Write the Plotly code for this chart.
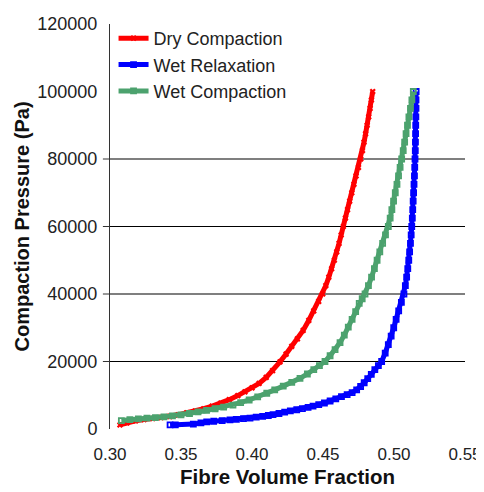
import plotly.graph_objects as go

# ---- data ----
dry_vf = [0.307, 0.312, 0.318, 0.324, 0.330, 0.336, 0.342, 0.348, 0.354, 0.360,
          0.366, 0.372, 0.378, 0.384, 0.390, 0.395, 0.400, 0.405, 0.410, 0.4145,
          0.4197, 0.424, 0.428, 0.432, 0.436, 0.440, 0.4435, 0.447, 0.4498,
          0.4520, 0.4541, 0.4561, 0.4580, 0.4597, 0.4613, 0.4628, 0.4643,
          0.4658, 0.4673, 0.4688, 0.4703, 0.4718, 0.4733, 0.4750, 0.4766,
          0.4778, 0.4789, 0.4800, 0.4811, 0.4822, 0.4832, 0.4841, 0.4850]
dry_p = [1200, 1800, 2400, 2800, 3100, 3350, 3650, 4200, 4800, 5300,
         6000, 6800, 7700, 8700, 9900, 11000, 12200, 13500, 15300, 17300,
         19900, 22200, 24500, 26700, 29200, 32200, 35000, 37800, 40000,
         42500, 45000, 47500, 50000, 52500, 55000, 57500, 60000,
         62500, 65000, 67500, 70000, 72500, 75000, 77500, 80000,
         82500, 85000, 87500, 90000, 92500, 95000, 97500, 100000]

wet_relax_vf = [0.3423, 0.3460, 0.3587, 0.3640, 0.3681, 0.3730, 0.3790, 0.3845,
                0.3890, 0.3940, 0.3986, 0.4030, 0.4075, 0.4115, 0.4148, 0.4190,
                0.4230, 0.4270, 0.4315, 0.4355, 0.4395, 0.4430, 0.4470, 0.4510,
                0.4550, 0.4590, 0.4630, 0.4670, 0.4705, 0.4737, 0.4765, 0.4790,
                0.4815, 0.4840, 0.4865, 0.4890, 0.4913,
                0.4938, 0.4960, 0.4980, 0.4998, 0.5015, 0.5033, 0.5052, 0.5070,
                0.5080, 0.5089, 0.5097, 0.5104, 0.5110, 0.5116, 0.5121, 0.5125,
                0.5129, 0.5132, 0.5135, 0.5138, 0.5141, 0.5144, 0.5146, 0.5148,
                0.5150, 0.5151, 0.5152, 0.5153, 0.5154, 0.5155, 0.5155, 0.5156]
wet_relax_p = [1200, 1200, 1450, 1800, 2100, 2300, 2500, 2700,
               2850, 3050, 3250, 3500, 3750, 4000, 4250, 4600,
               5000, 5350, 5700, 6050, 6400, 6750, 7200, 7700,
               8300, 8900, 9600, 10200, 10800, 11600, 12600, 13700,
               14900, 16200, 17600, 18800, 20000,
               22500, 25000, 27500, 30000, 32500, 35000, 37500, 40000,
               42500, 45000, 47500, 50000, 52500, 55000, 57500, 60000,
               62500, 65000, 67500, 70000, 72500, 75000, 77500, 80000,
               82500, 85000, 87500, 90000, 92500, 95000, 97500, 100000]

wet_comp_vf = [0.308, 0.314, 0.320, 0.326, 0.332, 0.338, 0.344, 0.350, 0.356, 0.362,
               0.368, 0.374, 0.380, 0.3866, 0.392, 0.398, 0.404, 0.4104, 0.416, 0.422,
               0.428, 0.4338, 0.439, 0.4435, 0.4475, 0.4514, 0.455, 0.4585, 0.462,
               0.465, 0.4678, 0.4705, 0.473, 0.4755, 0.4776, 0.4796,
               0.4820, 0.4842, 0.4862, 0.4881, 0.4900, 0.4920, 0.4940, 0.4960,
               0.4973, 0.4985, 0.4997, 0.5009, 0.5021, 0.5032, 0.5043, 0.5054,
               0.5065, 0.5075, 0.5085, 0.5095, 0.5105, 0.5116, 0.5126, 0.5136]
wet_comp_p = [2500, 2800, 3000, 3200, 3400, 3600, 3900, 4200, 4600, 5050,
              5500, 6000, 6500, 7100, 7800, 8600, 9500, 10600, 11600, 12700,
              13800, 15000, 16300, 17600, 18800, 20000, 21700, 23500, 25600,
              27800, 30200, 32500, 34800, 37200, 38600, 40000,
              42500, 45000, 47500, 50000, 52500, 55000, 57500, 60000,
              62500, 65000, 67500, 70000, 72500, 75000, 77500, 80000,
              82500, 85000, 87500, 90000, 92500, 95000, 97500, 100000]

x_ticks = [0.30, 0.35, 0.40, 0.45, 0.50, 0.55]
y_ticks = [0, 20000, 40000, 60000, 80000, 100000, 120000]
grid_ticks = [20000, 40000, 60000, 80000]

FONT = "Liberation Sans, Arial, sans-serif"
RED = "#FF0000"
BLUE = "#0000FF"
GREEN = "#4CA26E"

fig = go.Figure()
fig.add_trace(go.Scatter(
    x=dry_vf, y=dry_p, name="Dry Compaction", mode="lines+markers",
    line=dict(color=RED, width=5),
    marker=dict(symbol="x", size=5.5, color=RED)))
fig.add_trace(go.Scatter(
    x=wet_relax_vf, y=wet_relax_p, name="Wet Relaxation", mode="lines+markers",
    line=dict(color=BLUE, width=5),
    marker=dict(symbol="square-open", size=5, color=BLUE, line=dict(width=1.8, color=BLUE))))
fig.add_trace(go.Scatter(
    x=wet_comp_vf, y=wet_comp_p, name="Wet Compaction", mode="lines+markers",
    line=dict(color=GREEN, width=5),
    marker=dict(symbol="square-open", size=5, color=GREEN, line=dict(width=1.8, color=GREEN))))

# horizontal grid lines and their outside tick marks at the grid tick values
for g in grid_ticks:
    fig.add_shape(type="line", xref="paper", yref="y", x0=0, x1=1, y0=g, y1=g,
                  line=dict(color="#000000", width=1.2), layer="below")
    fig.add_shape(type="line", xref="paper", yref="y", x0=-0.02, x1=0, y0=g, y1=g,
                  line=dict(color="#333333", width=1), layer="below")

fig.update_layout(
    width=476, height=484,
    margin=dict(l=102, r=19, t=14, b=63),
    paper_bgcolor="white", plot_bgcolor="white",
    font=dict(family=FONT, size=18, color="#222222"),
    showlegend=True,
    legend=dict(x=0.01, y=1.01, xanchor="left", yanchor="top",
                bgcolor="rgba(0,0,0,0)", font=dict(size=18, color="#222222"),
                itemwidth=30, tracegroupgap=0),
    xaxis=dict(range=[0.30, 0.55], tickvals=x_ticks, tickformat=".2f", automargin=False,
               showgrid=False, zeroline=False, showline=False, ticks="",
               ticklabelstandoff=13, ticklabeloverflow="allow", tickfont=dict(size=17),
               title=dict(text="<b>Fibre Volume Fraction</b>", font=dict(size=20.5, color="#111111"), standoff=6)),
    yaxis=dict(range=[0, 120000], tickvals=y_ticks, tickformat="d", automargin=False,
               showgrid=False, zeroline=False, showline=True, linecolor="#333333", linewidth=1,
               ticks="", ticklabelstandoff=8,
               title=dict(text="<b>Compaction Pressure (Pa)</b>", font=dict(size=20, color="#111111"), standoff=2)),
)

fig.write_html("out.html")
